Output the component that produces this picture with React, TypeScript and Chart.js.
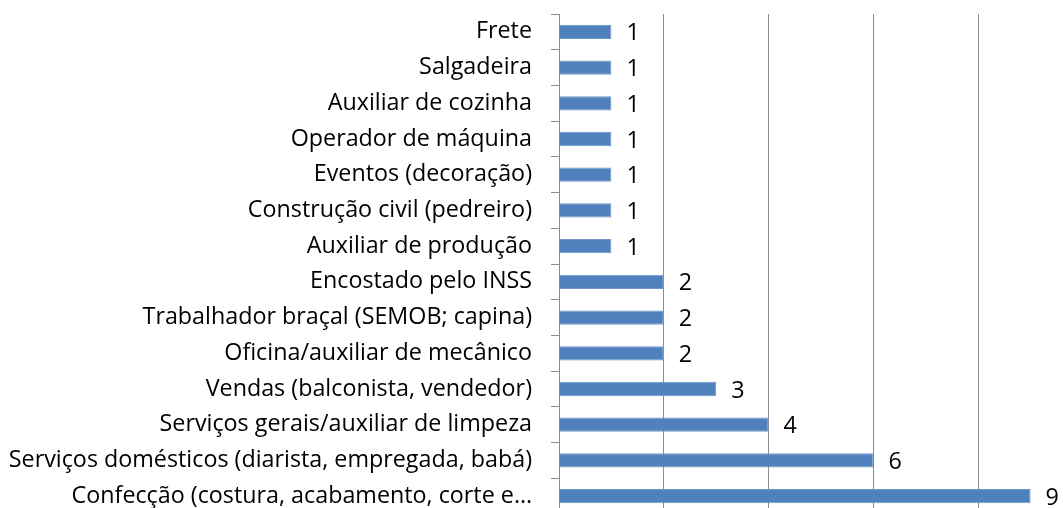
import React, { useEffect, useRef } from "react";
import { Chart, registerables } from "chart.js";

Chart.register(...registerables);

const categories: string[] = [
  "Frete",
  "Salgadeira",
  "Auxiliar de cozinha",
  "Operador de máquina",
  "Eventos (decoração)",
  "Construção civil (pedreiro)",
  "Auxiliar de produção",
  "Encostado pelo INSS",
  "Trabalhador braçal (SEMOB; capina)",
  "Oficina/auxiliar de mecânico",
  "Vendas (balconista, vendedor)",
  "Serviços gerais/auxiliar de limpeza",
  "Serviços domésticos (diarista, empregada, babá)",
  "Confecção (costura, acabamento, corte e…",
];

const values: number[] = [1, 1, 1, 1, 1, 1, 1, 2, 2, 2, 3, 4, 6, 9];

const xMin = 0;
const xMax = 10;
const xStep = 2;

const FONT = "'Open Sans', Lato, sans-serif";
const FONT_SIZE = 23.3;

const valueLabels = {
  id: "valueLabels",
  afterDatasetsDraw(chart: any) {
    const ctx = chart.ctx;
    const meta = chart.getDatasetMeta(0);
    ctx.save();
    ctx.font = `${FONT_SIZE}px ${FONT}`;
    ctx.fillStyle = "#000000";
    ctx.textAlign = "left";
    ctx.textBaseline = "middle";
    meta.data.forEach((bar: any, i: number) => {
      ctx.fillText(String(values[i]), bar.x + 15, bar.y + 2);
    });
    ctx.restore();
  },
};

export default function App() {
  const ref = useRef<HTMLCanvasElement | null>(null);
  useEffect(() => {
    if (!ref.current) return;
    const chart = new Chart(ref.current, {
      type: "bar",
      data: {
        labels: categories,
        datasets: [
          {
            data: values,
            backgroundColor: "#4F81BD",
            borderColor: "#6F97C9",
            borderWidth: 1,
            categoryPercentage: 1,
            barPercentage: 0.4,
          },
        ],
      },
      options: {
        indexAxis: "y",
        responsive: false,
        animation: false,
        devicePixelRatio: 1,
        layout: { padding: { left: 0, top: 14, right: 17, bottom: 6 } },
        plugins: {
          legend: { display: false },
          tooltip: { enabled: false },
        },
        scales: {
          x: {
            min: xMin,
            max: xMax,
            ticks: { display: false, stepSize: xStep },
            grid: { color: "#8C8C8C", lineWidth: 1, drawTicks: false },
            border: { display: false },
            afterFit: (s: any) => {
              s.height = 0;
              s.paddingLeft = 0;
              s.paddingRight = 0;
            },
          },
          y: {
            ticks: {
              color: "#000000",
              font: { family: FONT, size: FONT_SIZE },
              padding: 19,
              autoSkip: false,
            },
            grid: {
              drawOnChartArea: false,
              drawTicks: true,
              tickLength: 8,
              color: "#8C8C8C",
            },
            border: { display: true, color: "#8C8C8C", width: 1 },
            afterFit: (s: any) => {
              s.width = 559;
              s.paddingTop = 0;
              s.paddingBottom = 0;
            },
          },
        },
      },
      plugins: [valueLabels],
    });
    return () => chart.destroy();
  }, []);

  return (
    <div
      style={{
        position: "fixed",
        left: 0,
        top: 0,
        width: 1063,
        height: 508,
        overflow: "hidden",
        background: "#ffffff",
      }}
    >
      <canvas ref={ref} width={1100} height={520} style={{ display: "block" }} />
    </div>
  );
}
